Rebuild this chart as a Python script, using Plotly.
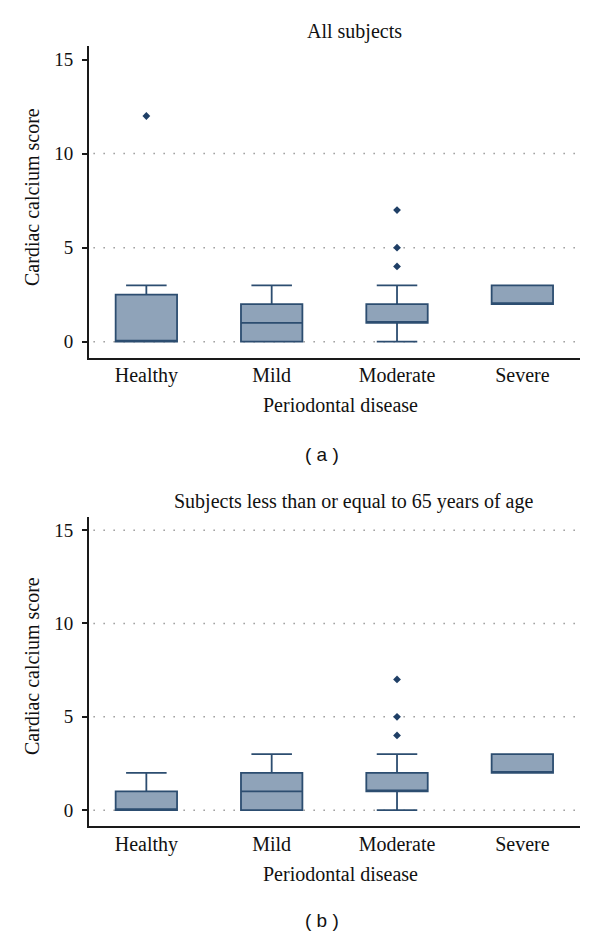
import plotly.graph_objects as go

categories = ["Healthy", "Mild", "Moderate", "Severe"]

# Panel (a): All subjects
a_q1 = [0, 0, 1, 2]
a_median = [0, 1, 1, 2]
a_q3 = [2.5, 2, 2, 3]
a_lower = [0, 0, 0, 2]
a_upper = [3, 3, 3, 3]
a_out_x = ["Healthy", "Moderate", "Moderate", "Moderate"]
a_out_y = [12, 4, 5, 7]

# Panel (b): Subjects <= 65 years
b_q1 = [0, 0, 1, 2]
b_median = [0, 1, 1, 2]
b_q3 = [1, 2, 2, 3]
b_lower = [0, 0, 0, 2]
b_upper = [2, 3, 3, 3]
b_out_x = ["Moderate", "Moderate", "Moderate"]
b_out_y = [4, 5, 7]

a_grid = [0, 5, 10]
b_grid = [0, 5, 10, 15]
y_ticks = [0, 5, 10, 15]

FILL = "#8fa3b9"
LINE = "#2c4d70"
SERIF = "Liberation Serif"
W, H = 600, 938

def px_y(p):
    return 1 - p / H

fig = go.Figure()

panels = [
    ("x", "y", a_q1, a_median, a_q3, a_lower, a_upper, a_out_x, a_out_y, a_grid),
    ("x2", "y2", b_q1, b_median, b_q3, b_lower, b_upper, b_out_x, b_out_y, b_grid),
]
for xa, ya, q1, med, q3, lo, up, ox, oy, grid in panels:
    for g in grid:
        fig.add_shape(type="line", xref=xa + " domain", yref=ya, x0=0.01, x1=1.0,
                      y0=g, y1=g, line=dict(color="#666666", width=1.5, dash="1px,9px"),
                      layer="below")
    fig.add_trace(go.Box(
        x=categories, q1=q1, median=med, q3=q3, lowerfence=lo, upperfence=up,
        xaxis=xa, yaxis=ya, width=0.49, whiskerwidth=0.66,
        fillcolor=FILL, line=dict(color=LINE, width=1.8),
        boxpoints=False, showlegend=False, hoverinfo="skip"))
    fig.add_trace(go.Scatter(
        x=ox, y=oy, xaxis=xa, yaxis=ya, mode="markers",
        marker=dict(symbol="diamond", size=6, color="#1f3f66"),
        showlegend=False, hoverinfo="skip"))

xdom = [88.7 / W, 580 / W]
yrange = [-0.85, 15.72]
axis_common = dict(showline=True, linecolor="#1a1a1a", linewidth=1.5, showgrid=False,
                   zeroline=False)
xfont = dict(family=SERIF, size=20, color="#111")
yfont = dict(family=SERIF, size=19, color="#111")

fig.update_layout(
    width=W, height=H, paper_bgcolor="white", plot_bgcolor="white",
    margin=dict(l=0, r=0, t=0, b=0),
    xaxis=dict(domain=xdom, anchor="y", type="category", range=[-0.46, 3.46],
               categoryorder="array", categoryarray=categories, ticks="",
               ticklabelstandoff=-1, tickfont=xfont, **axis_common),
    yaxis=dict(domain=[px_y(357.7), px_y(46)], anchor="x", range=yrange,
               tickvals=y_ticks, ticks="outside", ticklen=5, tickcolor="#1a1a1a",
               tickwidth=1.5, ticklabelstandoff=5, tickfont=yfont, **axis_common),
    xaxis2=dict(domain=xdom, anchor="y2", type="category", range=[-0.46, 3.46],
                categoryorder="array", categoryarray=categories, ticks="",
                ticklabelstandoff=-1, tickfont=xfont, **axis_common),
    yaxis2=dict(domain=[px_y(826), px_y(516.7)], anchor="x2", range=yrange,
                tickvals=y_ticks, ticks="outside", ticklen=5, tickcolor="#1a1a1a",
                tickwidth=1.5, ticklabelstandoff=5, tickfont=yfont, **axis_common),
)

def ann(text, x, y, size=20, family=SERIF, angle=0):
    fig.add_annotation(text=text, x=x / W, y=px_y(y), xref="paper", yref="paper",
                       xanchor="center", yanchor="middle", showarrow=False,
                       textangle=angle, font=dict(family=family, size=size, color="#111"))

ann("All subjects", 354, 31)
ann("Periodontal disease", 340, 405)
ann("Cardiac calcium score", 32, 197, angle=-90)
ann("( a )", 322, 455, family="Liberation Sans", size=19)

ann("Subjects less than or equal to 65 years of age", 353, 501)
ann("Periodontal disease", 340, 874)
ann("Cardiac calcium score", 32, 666, angle=-90)
ann("( b )", 322, 920, family="Liberation Sans", size=19)

fig.write_html("out.html", config={"displayModeBar": False},
               post_script="document.body.style.margin='0';document.body.style.padding='0';")
